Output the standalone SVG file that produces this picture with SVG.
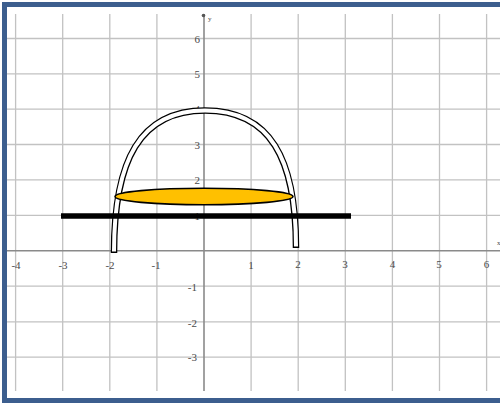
<svg xmlns="http://www.w3.org/2000/svg" width="500" height="405" viewBox="0 0 500 405">
  <style>
    .grid { stroke: #c2c2c2; stroke-width: 1.3; fill: none; }
    .axis { stroke: #8a8a8a; stroke-width: 1.6; fill: none; }
    .lbl { font-family: "Liberation Serif", "DejaVu Serif", serif; font-size: 11px; fill: #4a4a4a; }
    .xl { text-anchor: middle; }
    .yl { text-anchor: end; }
  </style>
  <g id="frame">
    <rect x="4.5" y="4.5" width="506" height="396" fill="#ffffff" stroke="#3c5e8e" stroke-width="5"/>
  </g>
  <g id="grid">
    <path class="grid" d="M15.6,14V391 M62.7,14V391 M109.8,14V391 M156.9,14V391 M251.1,14V391 M298.2,14V391 M345.3,14V391 M392.4,14V391 M439.5,14V391 M486.6,14V391"/>
    <path class="grid" d="M7,38.5H500 M7,73.8H500 M7,109.2H500 M7,144.5H500 M7,179.9H500 M7,215.3H500 M7,286.1H500 M7,321.8H500 M7,357.1H500"/>
  </g>
  <g id="axes">
    <path class="axis" d="M204,14V391"/>
    <path class="axis" d="M7,250.7H500"/>
    <circle cx="203.5" cy="15.5" r="1.8" fill="#555"/>
    <text class="lbl" x="208" y="21" style="font-size:7px">y</text>
    <text class="lbl" x="497" y="245" style="font-size:7px">x</text>
  </g>
  <g id="x-labels">
    <text class="lbl xl" x="16" y="269">-4</text>
    <text class="lbl xl" x="63" y="269">-3</text>
    <text class="lbl xl" x="110" y="269">-2</text>
    <text class="lbl xl" x="156" y="269">-1</text>
    <text class="lbl xl" x="251" y="269">1</text>
    <text class="lbl xl" x="298" y="268">2</text>
    <text class="lbl xl" x="345" y="268">3</text>
    <text class="lbl xl" x="392.5" y="268">4</text>
    <text class="lbl xl" x="439" y="268">5</text>
    <text class="lbl xl" x="486.5" y="268">6</text>
  </g>
  <g id="y-labels">
    <text class="lbl yl" x="200" y="42.5">6</text>
    <text class="lbl yl" x="200" y="78">5</text>
    <text class="lbl yl" x="200" y="113">4</text>
    <text class="lbl yl" x="200" y="148.5">3</text>
    <text class="lbl yl" x="200" y="184">2</text>
    <text class="lbl yl" x="200" y="220">1</text>
    <text class="lbl yl" x="197" y="291">-1</text>
    <text class="lbl yl" x="197" y="327">-2</text>
    <text class="lbl yl" x="197" y="361">-3</text>
  </g>
  <g id="arch">
    <path d="M114,253 C114,160 140,110.5 205,110.5 C270,110.5 296,158 296,248" fill="none" stroke="#000" stroke-width="6.5"/>
    <path d="M114,251.6 C114,160 140,110.5 205,110.5 C270,110.5 296,158 296,246.6" fill="none" stroke="#fff" stroke-width="4"/>
  </g>
  <g id="disc">
    <ellipse cx="204" cy="196.5" rx="89" ry="8.3" fill="#ffc000" stroke="#000" stroke-width="1.6"/>
  </g>
  <g id="bar">
    <line x1="61" y1="216" x2="351" y2="216" stroke="#000" stroke-width="5.5"/>
  </g>
</svg>
